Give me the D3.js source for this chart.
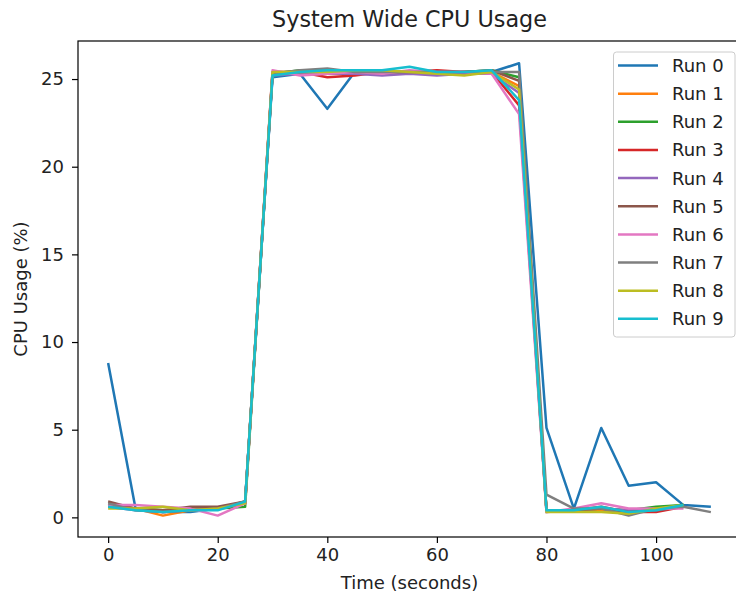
<!DOCTYPE html>
<html>
<head>
<meta charset="utf-8">
<script src="https://cdn.jsdelivr.net/npm/d3@7"></script>
<style>
body { margin: 0; background: #fff; }
svg { display: block; font-family: "DejaVu Sans", sans-serif; }
</style>
</head>
<body>
<svg id="chart" width="736" height="594"></svg>
<script>
const time = [0,5,10,15,20,25,30,35,40,45,50,55,60,65,70,75,80,85,90,95,100,105,110];
const runNames = ["Run 0","Run 1","Run 2","Run 3","Run 4","Run 5","Run 6","Run 7","Run 8","Run 9"];
const run0 = [8.8,0.5,0.3,0.3,0.5,0.9,25.1,25.3,23.3,25.4,25.4,25.4,25.3,25.4,25.4,25.9,5.1,0.5,5.1,1.8,2.0,0.7,0.6];
const run1 = [0.6,0.5,0.1,0.4,0.5,0.8,25.4,25.4,25.4,25.4,25.4,25.4,25.3,25.4,25.4,24.6,0.4,0.4,0.4,0.3,0.5,0.7];
const run2 = [0.7,0.5,0.4,0.4,0.5,0.6,25.3,25.5,25.4,25.4,25.4,25.4,25.3,25.4,25.5,25.1,0.4,0.4,0.5,0.4,0.6,0.7];
const run3 = [0.7,0.5,0.3,0.4,0.5,0.8,25.3,25.4,25.1,25.2,25.4,25.4,25.5,25.4,25.4,23.5,0.4,0.4,0.6,0.3,0.3,0.6];
const run4 = [0.6,0.4,0.3,0.4,0.5,0.8,25.2,25.3,25.3,25.3,25.2,25.3,25.2,25.3,25.3,24.2,0.3,0.4,0.5,0.4,0.4,0.6];
const run5 = [0.9,0.5,0.4,0.6,0.6,0.9,25.4,25.4,25.5,25.4,25.4,25.4,25.4,25.4,25.5,24.9,0.4,0.4,0.5,0.3,0.4,0.6];
const run6 = [0.7,0.7,0.6,0.5,0.1,0.8,25.5,25.2,25.3,25.4,25.3,25.5,25.4,25.4,25.3,23.0,0.3,0.5,0.8,0.5,0.5,0.5];
const run7 = [0.8,0.4,0.3,0.4,0.5,0.9,25.3,25.5,25.6,25.4,25.4,25.4,25.4,25.4,25.4,25.4,1.3,0.5,0.5,0.1,0.5,0.6,0.3];
const run8 = [0.5,0.5,0.6,0.4,0.5,0.8,25.4,25.4,25.4,25.5,25.5,25.4,25.3,25.2,25.4,24.4,0.3,0.3,0.3,0.2,0.5,0.7];
const run9 = [0.6,0.4,0.3,0.4,0.4,0.9,25.2,25.4,25.5,25.5,25.5,25.7,25.4,25.4,25.5,23.8,0.4,0.4,0.6,0.3,0.4,0.7];
const runs = [run0,run1,run2,run3,run4,run5,run6,run7,run8,run9];
const xTicks = [0,20,40,60,80,100];
const yTicks = [0,5,10,15,20,25];
const colors = ["#1f77b4","#ff7f0e","#2ca02c","#d62728","#9467bd","#8c564b","#e377c2","#7f7f7f","#bcbd22","#17becf"];

const svg = d3.select("#chart");
const L = 78, R = 741, T = 41, B = 537;
const x = d3.scaleLinear().domain([-5.5, 115.5]).range([L, R]);
const y = d3.scaleLinear().domain([-1.12, 27.17]).range([B, T]);

const tickFont = "18px";

// axes
const xAxis = svg.append("g").attr("transform", `translate(0,${B})`)
  .call(d3.axisBottom(x).tickValues(xTicks).tickFormat(d3.format("d")).tickSize(6).tickPadding(5));
const yAxis = svg.append("g").attr("transform", `translate(${L},0)`)
  .call(d3.axisLeft(y).tickValues(yTicks).tickFormat(d3.format("d")).tickSize(6).tickPadding(8));
[xAxis, yAxis].forEach(a => {
  a.select(".domain").remove();
  a.selectAll("line").attr("stroke", "#000").attr("stroke-width", 1.2);
  a.selectAll("text").attr("font-size", tickFont).attr("font-family", "DejaVu Sans").attr("fill", "#222");
});

// lines
svg.append("clipPath").attr("id", "clip").append("rect")
  .attr("x", L).attr("y", T).attr("width", R - L).attr("height", B - T);
const line = d3.line().x(d => x(d[0])).y(d => y(d[1]));
const lg = svg.append("g").attr("clip-path", "url(#clip)");
runs.forEach((r, i) => {
  lg.append("path")
    .datum(r.map((v, j) => [time[j], v]))
    .attr("d", line)
    .attr("fill", "none")
    .attr("stroke", colors[i])
    .attr("stroke-width", 2.5)
    .attr("stroke-linejoin", "round")
    .attr("stroke-linecap", "butt");
});

// spines
svg.append("rect").attr("x", L).attr("y", T).attr("width", R - L).attr("height", B - T)
  .attr("fill", "none").attr("stroke", "#000").attr("stroke-width", 1.2);

// title & labels
svg.append("text").attr("x", (L + R) / 2).attr("y", 27).attr("text-anchor", "middle")
  .attr("font-size", "22.3px").attr("fill", "#222").text("System Wide CPU Usage");
svg.append("text").attr("x", (L + R) / 2).attr("y", 589).attr("text-anchor", "middle")
  .attr("font-size", tickFont).attr("fill", "#222").text("Time (seconds)");
svg.append("text").attr("transform", `translate(27,${(T + B) / 2}) rotate(-90)`).attr("text-anchor", "middle")
  .attr("font-size", tickFont).attr("fill", "#222").text("CPU Usage (%)");

// legend
const leg = svg.append("g");
leg.append("rect").attr("x", 613.5).attr("y", 52).attr("width", 121.5).attr("height", 285)
  .attr("rx", 3).attr("fill", "#fff").attr("fill-opacity", 0.8).attr("stroke", "#cccccc").attr("stroke-width", 1);
runNames.forEach((n, i) => {
  const yy = 65.5 + i * 28.15;
  leg.append("line").attr("x1", 618).attr("x2", 658).attr("y1", yy).attr("y2", yy)
    .attr("stroke", colors[i]).attr("stroke-width", 2.5);
  leg.append("text").attr("x", 672).attr("y", yy).attr("dy", "0.36em")
    .attr("font-size", tickFont).attr("fill", "#222").text(n);
});
</script>
</body>
</html>
